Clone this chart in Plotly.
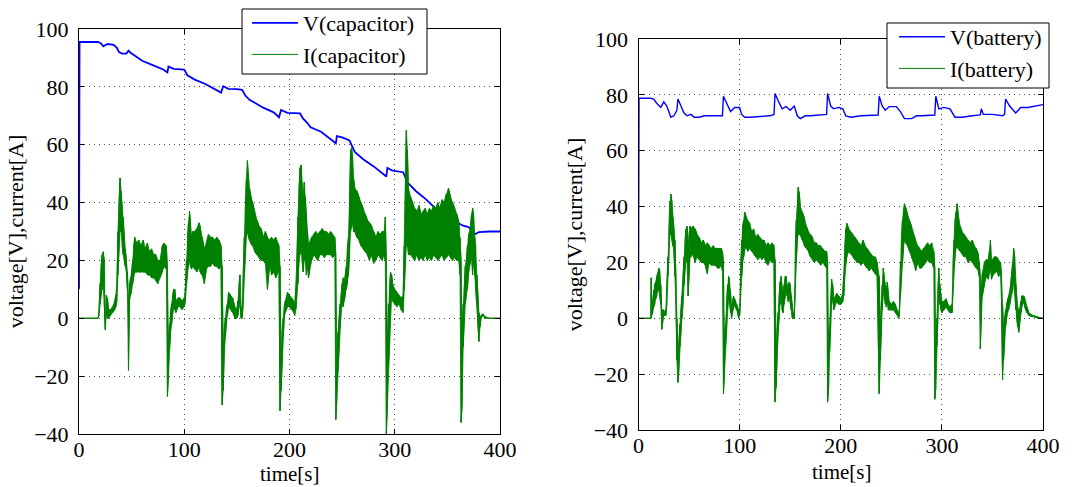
import plotly.graph_objects as go

# ---------------- data ----------------
# Left panel: capacitor voltage
t_vcap = [0, 0.5, 18, 21, 23, 25, 27, 33, 36, 38,
          41, 45, 47, 49, 52, 60, 70, 80, 84, 85,
          90, 100, 103, 110, 120, 130, 135, 137, 142, 150,
          155, 158, 162, 167, 175, 185, 190, 192, 198, 210,
          213, 217, 220, 230, 240, 244, 245, 250, 257, 262,
          270, 280, 292, 293, 298, 308, 312, 320, 330, 340,
          350, 360, 365, 370, 373, 376, 380, 390, 400]
v_cap = [10, 95.5, 95.5, 95, 94, 94.5, 94.8, 94.5, 93.5, 92,
         91.5, 91.5, 92.5, 91.8, 91, 89, 87.5, 86, 85, 87,
         86.2, 86, 84, 82.5, 81, 79, 78, 80.2, 79.3, 79.2,
         79, 77, 75.5, 74.5, 72.8, 71.2, 69.5, 72, 71, 70.8,
         69, 67.5, 66, 64.5, 61.5, 60.5, 63, 62.5, 61.5, 57.5,
         55, 52.5, 49, 52, 51, 50.5, 47, 44, 41, 37.5,
         35, 33, 32, 31.5, 30.5, 29, 29.8, 30, 30]

# Left panel: capacitor current (lower / upper edge of the noisy trace)
t_icap = [0, 18, 19, 20, 21, 22, 23, 24, 25, 26,
          27, 28, 30, 32, 34, 35, 36, 37, 38, 39,
          40, 41, 42, 43, 44, 45, 46, 47, 48, 49,
          50, 51, 52, 53, 55, 57, 59, 61, 63, 65,
          67, 69, 71, 73, 75, 77, 79, 81, 83, 84,
          85, 86, 87, 88, 89, 90, 91, 92, 94, 96,
          98, 100, 101, 102, 103, 104, 105, 106, 107, 108,
          110, 112, 114, 115, 117, 119, 121, 123, 125, 127,
          129, 131, 133, 135, 136, 137, 138, 139, 140, 141,
          142, 144, 146, 148, 150, 151, 152, 153, 154, 155,
          156, 157, 158, 159, 160, 161, 162, 163, 165, 167,
          169, 171, 173, 175, 177, 179, 181, 183, 185, 187,
          189, 190, 191, 192, 193, 194, 195, 196, 198, 200,
          202, 204, 205, 206, 207, 208, 209, 210, 211, 212,
          213, 214, 215, 216, 217, 218, 219, 221, 223, 225,
          227, 229, 231, 233, 235, 237, 239, 241, 243, 244,
          245, 246, 247, 248, 249, 250, 251, 252, 253, 254,
          255, 256, 257, 258, 259, 260, 261, 262, 264, 266,
          268, 270, 272, 274, 276, 278, 280, 282, 284, 286,
          288, 290, 291, 292, 293, 294, 295, 296, 297, 298,
          300, 302, 304, 306, 308, 309, 310, 311, 312, 313,
          315, 317, 319, 321, 323, 325, 327, 329, 331, 333,
          335, 337, 339, 341, 343, 345, 347, 349, 351, 353,
          355, 357, 359, 361, 362, 363, 364, 365, 366, 367,
          368, 369, 370, 371, 372, 373, 374, 375, 376, 377,
          378, 379, 380, 381, 382, 384, 386, 390, 400]
icap_lo = [0, 0, 1, 5, 8, 10, 12, 5, -4, 2,
           0, 0, 1, 2, 3, 4, 6, 15, 25, 30,
           30, 25, 22, 20, 18, 16, 10, -18, 6, 8,
           10, 12, 15, 16, 16, 16, 16, 16, 16, 15,
           15, 14, 14, 13, 12, 14, 16, 18, 17, -27,
           -20, -10, -5, -2, 2, 4, 3, 2, 4, 4,
           3, 4, 6, 12, 15, 18, 20, 18, 17, 18,
           17, 16, 18, 16, 15, 12, 17, 18, 18, 19,
           18, 18, 17, 18, -30, -25, -12, -6, -2, 1,
           4, 3, 2, 0, 0, 1, 4, 6, 0, 0,
           5, 15, 25, 28, 30, 28, 27, 26, 25, 23,
           22, 21, 20, 20, 19, 10, 18, 15, 16, 14,
           16, 18, -32, -25, -15, -6, 0, 2, 4, 4,
           3, 2, 1, 3, 8, 12, 20, 22, 25, 20,
           16, 20, 20, 15, 18, 14, 16, 20, 22, 21,
           20, 22, 22, 21, 22, 22, 22, 21, 22, -35,
           -28, -18, -10, -3, 2, 5, 4, 6, 8, 10,
           12, 15, 22, 30, 32, 33, 30, 30, 28, 27,
           25, 24, 23, 22, 20, 22, 19, 20, 22, 21,
           20, 22, 20, -40, -30, -15, -5, 5, 8, 6,
           5, 4, 5, 3, 2, 10, 20, 25, 25, 22,
           22, 21, 20, 22, 20, 21, 20, 22, 20, 21,
           20, 22, 21, 20, 21, 22, 20, 21, 22, 21,
           20, 21, 20, 20, 15, -36, -30, -10, 0, 5,
           8, 10, 15, 18, 20, 22, 15, 20, 15, 10,
           5, -2, -8, -3, 0, 1, 0, 0, 0]
icap_hi = [0, 0, 3, 12, 18, 22, 23, 20, -3, 8,
           7, 3, 3, 4, 6, 8, 12, 30, 40, 48.5,
           44, 38, 35, 28, 24, 20, 16, 5, 12, 14,
           16, 20, 25, 28, 26, 27, 25, 27, 24, 26,
           23, 24, 22, 22, 20, 20, 25, 26, 25, 17,
           -8, -2, 2, 5, 8, 10, 10, 6, 7, 7,
           6, 7, 10, 20, 28, 33, 37, 33, 28, 30,
           30, 31, 33, 32, 28, 24, 26, 29, 28, 28,
           27, 28, 27, 25, 18, -12, -4, 0, 3, 5,
           9, 8, 7, 4, 3, 6, 12, 15, 4, 3,
           15, 28, 38, 48, 54.5, 48, 45, 43, 40, 36,
           34, 32, 31, 28, 30, 28, 27, 28, 27, 28,
           26, 25, 18, -15, -5, 0, 4, 6, 9, 8,
           7, 6, 4, 10, 20, 35, 45, 52, 53, 45,
           40, 47, 42, 35, 30, 25, 26, 28, 29, 30,
           29, 30, 31, 30, 30, 29, 30, 29, 28, 22,
           -15, -5, 0, 5, 8, 12, 14, 13, 15, 18,
           24, 28, 40, 58, 59, 55, 48, 45, 44, 42,
           40, 38, 36, 34, 33, 32, 30, 28, 30, 29,
           30, 30, 35, 20, -10, 5, 10, 16, 15, 12,
           10, 9, 8, 7, 8, 25, 40, 65, 58, 45,
           42, 40, 38, 37, 39, 36, 37, 38, 36, 38,
           37, 39, 38, 40, 38, 41, 40, 43, 45, 42,
           40, 38, 36, 33, 28, 20, -5, 5, 10, 18,
           20, 25, 28, 30, 32, 36, 38, 35, 28, 25,
           15, 8, 2, 0, 1, 1.5, 0.5, 0, 0]

# Right panel: battery voltage
t_vbat = [0, 0.5, 12, 15, 18, 22, 25, 28, 32, 35,
          38, 39, 42, 45, 48, 52, 55, 60, 65, 70,
          80, 83, 84, 88, 91, 95, 100, 102, 105, 110,
          120, 130, 134, 135, 138, 142, 146, 150, 154, 157,
          160, 165, 170, 180, 186, 187, 190, 193, 198, 202,
          205, 210, 220, 237, 238, 241, 244, 248, 255, 259,
          263, 270, 275, 280, 293, 294, 297, 302, 308, 313,
          320, 330, 338, 339, 341, 350, 360, 362, 363, 367,
          373, 378, 385, 400]
v_bat = [10, 78.8, 78.8, 78.5, 77, 75.5, 77.5, 76, 72, 72.5,
         74.5, 78.5, 76, 73.5, 72.5, 73, 72, 72, 72.5, 72.5,
         72.5, 72.5, 79.5, 76, 74, 75.5, 75.5, 73, 72, 72,
         72.3, 72.5, 73, 80.5, 78, 75, 75.8, 74.5, 76, 72.5,
         71.5, 72.5, 72.5, 72.8, 73, 80.5, 76, 75, 75.5, 75,
         72.5, 72, 72.5, 72.8, 79.5, 76, 74.5, 75.8, 75.8, 74,
         71.5, 71.5, 72.5, 72.5, 72.8, 79.5, 75, 75.5, 75, 72,
         72, 72.5, 72.8, 75, 73, 73, 72.5, 73, 78.5, 76,
         73.5, 75.5, 75.5, 76.5]

# Right panel: battery current (lower / upper edge of the noisy trace)
t_ibat = [0, 12, 12.5, 13, 14, 15, 16, 17, 18, 19,
          20, 21, 22, 23, 24, 25, 26, 27, 28, 29,
          30, 31, 32, 33, 34, 35, 36, 37, 38, 39,
          40, 41, 42, 43, 44, 45, 46, 47, 48, 49,
          50, 51, 52, 54, 56, 58, 60, 62, 64, 66,
          68, 70, 72, 74, 76, 78, 80, 82, 83, 84,
          85, 86, 87, 88, 89, 90, 91, 92, 93, 94,
          95, 96, 97, 98, 99, 100, 101, 102, 103, 104,
          105, 106, 108, 110, 112, 114, 116, 118, 120, 122,
          124, 126, 128, 130, 132, 134, 135, 136, 137, 138,
          139, 140, 141, 142, 143, 144, 145, 146, 147, 148,
          149, 150, 151, 152, 153, 154, 155, 156, 157, 158,
          159, 160, 162, 164, 166, 168, 170, 172, 174, 176,
          178, 180, 182, 184, 186, 187, 188, 189, 190, 191,
          192, 193, 194, 196, 198, 200, 202, 203, 204, 205,
          206, 208, 210, 212, 214, 216, 218, 220, 222, 224,
          226, 228, 230, 232, 234, 236, 238, 239, 240, 241,
          242, 243, 244, 245, 246, 247, 248, 250, 252, 254,
          256, 257, 258, 259, 260, 261, 262, 263, 264, 266,
          268, 270, 272, 274, 276, 278, 280, 282, 284, 286,
          288, 290, 292, 293, 294, 295, 296, 297, 298, 299,
          300, 302, 304, 306, 308, 310, 311, 312, 313, 314,
          315, 316, 318, 320, 322, 324, 326, 328, 330, 332,
          334, 336, 337, 338, 339, 340, 342, 344, 346, 347,
          348, 349, 350, 352, 354, 356, 358, 359, 360, 361,
          362, 363, 364, 366, 368, 370, 371, 372, 373, 374,
          375, 376, 377, 378, 379, 380, 381, 382, 384, 386,
          390, 395, 400]
ibat_lo = [0, 0, 0, 1, 2, 4, 5, 7, 8, 10,
           10, 8, 5, -4, -1, 1, 1, 1, 5, 15,
           22, 30, 30, 28, 26, 24, 15, 5, -15, -23,
           -18, -10, -5, 0, 5, 12, 18, 22, 20, 8,
           15, 22, 22, 23, 20, 22, 21, 20, 20, 19,
           16, 20, 19, 19, 19, 18, 18, 19, 17, -27,
           -20, -10, -2, 3, 8, 6, 2, 0, 2, 4,
           5, 4, 3, 2, 0, 1, 8, 15, 20, 22,
           25, 26, 24, 25, 24, 23, 22, 21, 22, 21,
           22, 20, 19, 21, 20, 20, -30, -25, -15, -5,
           0, 5, 8, 3, 2, 5, 8, 10, 8, 6,
           8, 6, 3, 0, 0, 0, 10, 20, 28, 30,
           30, 30, 28, 26, 25, 24, 22, 21, 20, 21,
           20, 19, 20, 19, 18, -30, -25, -12, -3, 5,
           8, 3, 4, 6, 5, 5, 6, 8, 15, 20,
           22, 24, 23, 22, 21, 20, 20, 19, 20, 19,
           18, 17, 18, 17, 16, 15, -27, -15, -5, 3,
           10, 8, 5, 4, 6, 3, 3, 3, 3, 2,
           1, 0, 1, 8, 15, 20, 25, 28, 27, 26,
           24, 22, 20, 17, 20, 18, 18, 19, 20, 21,
           20, 20, 18, -29, -25, -10, 0, 10, 5, 3,
           2, 3, 4, 3, 2, 2, 10, 18, 22, 25,
           26, 25, 24, 23, 22, 22, 20, 21, 20, 19,
           18, 17, 15, -11, 0, 8, 12, 15, 14, 16,
           18, 14, 15, 16, 17, 15, 16, 5, -22, -15,
           -8, -3, 0, 3, 6, 10, 15, 10, 3, 0,
           -3, -5, -2, 2, 4, 5, 6, 4, 2, 1,
           0.5, 0, 0]
ibat_hi = [0, 0, 14.5, 3, 6, 10, 12, 13, 15, 16,
           18, 17, 12, 2, 3, 3, 2, 3, 12, 22,
           32, 42, 44.5, 42, 36, 32, 28, 15, 0, -15,
           -8, -2, 3, 8, 15, 22, 28, 32, 33, 25,
           30, 33, 32, 33, 32, 30, 29, 27, 28, 26,
           27, 26, 25, 26, 25, 25, 25, 25, 24, 20,
           -8, -2, 5, 12, 15, 14, 10, 3, 6, 8,
           7, 6, 5, 4, 3, 2, 18, 28, 33, 35,
           38, 37, 35, 34, 31, 32, 29, 30, 29, 28,
           28, 26, 27, 26, 27, 26, 21, -12, -5, 2,
           8, 13, 15, 10, 8, 12, 15, 15, 12, 12,
           13, 12, 8, 4, 2, 1, 25, 35, 40, 47,
           45, 40, 38, 36, 33, 31, 30, 29, 27, 27,
           26, 26, 25, 24, 24, 20, -10, -3, 5, 14,
           12, 8, 7, 9, 8, 7, 9, 15, 25, 32,
           34, 32, 31, 30, 29, 28, 27, 26, 28, 26,
           25, 24, 23, 22, 22, 20, 15, -3, 3, 12,
           18, 15, 12, 10, 13, 8, 6, 5, 6, 5,
           3, 2, 3, 20, 28, 35, 38, 41, 40, 37,
           35, 33, 30, 28, 26, 25, 24, 25, 26, 27,
           26, 27, 24, 18, -10, 0, 10, 18, 12, 8,
           6, 6, 7, 5, 4, 5, 20, 28, 35, 38,
           41, 38, 33, 31, 30, 29, 28, 27, 28, 26,
           25, 23, 20, 15, 8, 16, 20, 21, 21, 24,
           28, 20, 21, 22, 22, 21, 20, 15, 5, -5,
           0, 3, 5, 8, 12, 20, 25, 22, 12, 8,
           4, 2, 3, 6, 8, 8, 8, 7, 4, 2,
           1, 0.5, 0]

x_ticks = [0, 100, 200, 300, 400]
y_ticks = [-40, -20, 0, 20, 40, 60, 80, 100]
x_title = "time[s]"
y_title = "voltage[V],current[A]"

for name, a, b, c in [("cap", t_icap, icap_lo, icap_hi), ("bat", t_ibat, ibat_lo, ibat_hi)]:
    if not (len(a) == len(b) == len(c)):
        raise ValueError(f"{name}: {len(a)} {len(b)} {len(c)}")
if len(t_vcap) != len(v_cap) or len(t_vbat) != len(v_bat):
    raise ValueError(f"V lengths {len(t_vcap)} {len(v_cap)} {len(t_vbat)} {len(v_bat)}")

BLUE = "rgb(0,0,255)"
GREEN = "rgb(0,128,0)"
FONT = "Liberation Serif"
FS = 22


def zigzag(t, lo, hi):
    xs, ys = [], []
    for i, (tt, a, b) in enumerate(zip(t, lo, hi)):
        xs += [tt, tt]
        ys += [a, b] if i % 2 == 0 else [b, a]
    return xs, ys


fig = go.Figure()


def add_panel(xa, ya, legend, t_v, v, vname, t_i, lo, hi, iname, vwidth):
    fig.add_trace(go.Scatter(x=t_v, y=v, mode="lines", name=vname,
                             line=dict(color=BLUE, width=vwidth),
                             xaxis=xa, yaxis=ya, legend=legend))
    fig.add_trace(go.Scatter(x=t_i, y=lo, mode="lines", showlegend=False,
                             line=dict(color=GREEN, width=0.8),
                             xaxis=xa, yaxis=ya, hoverinfo="skip"))
    fig.add_trace(go.Scatter(x=t_i, y=hi, mode="lines", showlegend=False,
                             fill="tonexty", fillcolor=GREEN,
                             line=dict(color=GREEN, width=0.8),
                             xaxis=xa, yaxis=ya, hoverinfo="skip"))
    zx, zy = zigzag(t_i, lo, hi)
    fig.add_trace(go.Scatter(x=zx, y=zy, mode="lines", name=iname,
                             line=dict(color=GREEN, width=1),
                             xaxis=xa, yaxis=ya, legend=legend))


add_panel("x", "y", "legend", t_vcap, v_cap, "V(capacitor)",
          t_icap, icap_lo, icap_hi, "I(capacitor)", 1.8)
add_panel("x2", "y2", "legend2", t_vbat, v_bat, "V(battery)",
          t_ibat, ibat_lo, ibat_hi, "I(battery)", 1.4)

W, H = 1079, 487
tfont = dict(family=FONT, size=FS, color="black")
xtfont = dict(family=FONT, size=21, color="black")

axis_common = dict(
    showline=True, linecolor="black", linewidth=1, mirror="ticks",
    ticks="inside", ticklen=5, tickcolor="black", tickwidth=1,
    showgrid=True, gridcolor="rgba(0,0,0,0.7)", gridwidth=1, griddash="1px,4px",
    zeroline=False, tickfont=tfont, automargin=False,
)

xa = dict(axis_common, range=[0, 400], tickvals=x_ticks, ticklabelstandoff=-4)
ya = dict(axis_common, range=[-40, 100], tickvals=y_ticks, ticklabelstandoff=5,
          title=dict(text=y_title, font=tfont, standoff=4))

legend_common = dict(xanchor="left", yanchor="top", traceorder="normal",
                     bgcolor="rgba(0,0,0,0)", borderwidth=0,
                     font=tfont, tracegroupgap=0, itemwidth=46)


def px_rect(x0, x1, y0, y1):
    return dict(type="rect", xref="paper", yref="paper", layer="above",
                x0=x0 / W, x1=x1 / W, y0=1 - y1 / H, y1=1 - y0 / H,
                fillcolor="white", line=dict(color="black", width=1))


def x_label(xc, yc):
    return dict(text=x_title, xref="paper", yref="paper", x=xc / W, y=1 - yc / H,
                xanchor="center", yanchor="middle", showarrow=False, font=xtfont)


fig.update_layout(
    width=W, height=H, autosize=False,
    margin=dict(l=0, r=0, t=0, b=0, pad=0, autoexpand=False),
    paper_bgcolor="white", plot_bgcolor="white",
    xaxis=dict(xa, domain=[79 / W, 500 / W], anchor="y"),
    yaxis=dict(ya, domain=[1 - 434 / H, 1 - 29 / H], anchor="x"),
    xaxis2=dict(xa, domain=[638.5 / W, 1043 / W], anchor="y2"),
    yaxis2=dict(ya, domain=[1 - 430 / H, 1 - 39 / H], anchor="x2"),
    legend=dict(legend_common, x=247 / W, y=1 - 2 / H),
    legend2=dict(legend_common, x=894 / W, y=1 - 16 / H),
    shapes=[px_rect(242, 427, 9, 74), px_rect(887, 1049, 23, 88)],
    annotations=[x_label(289.5, 474), x_label(841, 472)],
    showlegend=True,
)

fig.write_html(
    "out.html",
    config={"responsive": False},
    post_script="document.body.style.margin='0';document.body.style.padding='0';",
)
